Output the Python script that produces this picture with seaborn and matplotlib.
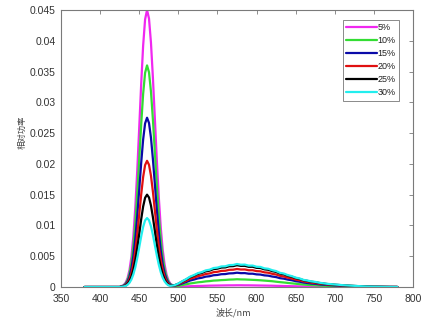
import matplotlib
matplotlib.use("Agg")
import matplotlib.pyplot as plt
from matplotlib.ticker import FuncFormatter, MultipleLocator
import pandas as pd
import seaborn as sns

# Wavelength grid (nm)
wavelength = [
    380, 400, 420, 425,
    430, 432.5, 435, 437.5, 440, 442.5, 445, 447.5, 450, 452.5, 455, 457.5,
    460, 462.5, 465, 467.5, 470, 472.5, 475, 477.5, 480, 482.5, 485, 487.5, 490,
    495, 500, 505, 510, 515, 520, 525, 530, 535, 540, 545, 550, 555, 560, 565,
    570, 575, 580, 585, 590, 595, 600, 605, 610, 615, 620, 625, 630, 635, 640,
    645, 650, 655, 660, 665, 670, 675, 680,
    690, 700, 710, 720, 730, 740, 750, 760, 770, 780,
]

# Relative spectral power for each concentration
power_5 = [
    0, 0, 0, 0,
    0.00031, 0.00068, 0.00141, 0.00272, 0.00491, 0.00824, 0.01292, 0.01895, 0.02588, 0.03294, 0.03920, 0.04347,
    0.04500, 0.04361, 0.03971, 0.03398, 0.02732, 0.02061, 0.01463, 0.00972, 0.00608, 0.00360, 0.00198, 0.00104, 0.00051,
    0.00011, 0.00004, 0.00007, 0.00010, 0.00013, 0.00015, 0.00017, 0.00018, 0.00020, 0.00022, 0.00023, 0.00024, 0.00025, 0.00026, 0.00027,
    0.00027, 0.00028, 0.00028, 0.00027, 0.00027, 0.00026, 0.00025, 0.00024, 0.00023, 0.00022, 0.00021, 0.00019, 0.00018, 0.00016, 0.00015,
    0.00013, 0.00012, 0.00010, 0.00009, 0.00008, 0.00007, 0.00006, 0.00005,
    0.00004, 0.00003, 0.00002, 0.00002, 0.00001, 0.00001, 0, 0, 0, 0,
]
power_10 = [
    0, 0, 0, 0,
    0.00024, 0.00055, 0.00113, 0.00218, 0.00392, 0.00659, 0.01033, 0.01516, 0.02070, 0.02635, 0.03136, 0.03478,
    0.03600, 0.03488, 0.03177, 0.02718, 0.02185, 0.01649, 0.01170, 0.00778, 0.00486, 0.00288, 0.00158, 0.00083, 0.00043,
    0.00016, 0.00019, 0.00031, 0.00044, 0.00057, 0.00066, 0.00076, 0.00082, 0.00091, 0.00096, 0.00104, 0.00107, 0.00112, 0.00115, 0.00120,
    0.00122, 0.00126, 0.00123, 0.00122, 0.00119, 0.00116, 0.00113, 0.00109, 0.00104, 0.00099, 0.00094, 0.00086, 0.00079, 0.00073, 0.00066,
    0.00059, 0.00053, 0.00046, 0.00040, 0.00035, 0.00031, 0.00028, 0.00024,
    0.00018, 0.00014, 0.00010, 0.00008, 0.00005, 0.00003, 0.00002, 0.00001, 0, 0,
]
power_15 = [
    0, 0, 0, 0,
    0.00019, 0.00042, 0.00086, 0.00166, 0.00300, 0.00503, 0.00789, 0.01158, 0.01581, 0.02013, 0.02395, 0.02657,
    0.02750, 0.02665, 0.02427, 0.02076, 0.01669, 0.01260, 0.00894, 0.00594, 0.00371, 0.00220, 0.00121, 0.00063, 0.00035,
    0.00022, 0.00035, 0.00058, 0.00080, 0.00105, 0.00121, 0.00140, 0.00150, 0.00168, 0.00175, 0.00191, 0.00196, 0.00208, 0.00210, 0.00221,
    0.00223, 0.00232, 0.00225, 0.00226, 0.00216, 0.00216, 0.00205, 0.00202, 0.00189, 0.00184, 0.00170, 0.00161, 0.00143, 0.00135, 0.00120,
    0.00110, 0.00095, 0.00086, 0.00072, 0.00065, 0.00057, 0.00052, 0.00043,
    0.00032, 0.00025, 0.00018, 0.00014, 0.00009, 0.00006, 0.00003, 0.00002, 0.00001, 0,
]
power_20 = [
    0, 0, 0, 0,
    0.00014, 0.00031, 0.00064, 0.00124, 0.00223, 0.00375, 0.00588, 0.00863, 0.01179, 0.01501, 0.01786, 0.01980,
    0.02050, 0.01986, 0.01809, 0.01548, 0.01244, 0.00939, 0.00666, 0.00443, 0.00277, 0.00164, 0.00090, 0.00047, 0.00029,
    0.00024, 0.00044, 0.00073, 0.00100, 0.00132, 0.00152, 0.00176, 0.00190, 0.00211, 0.00220, 0.00241, 0.00247, 0.00262, 0.00264, 0.00279,
    0.00281, 0.00293, 0.00284, 0.00285, 0.00272, 0.00273, 0.00258, 0.00255, 0.00238, 0.00232, 0.00214, 0.00203, 0.00181, 0.00170, 0.00151,
    0.00138, 0.00120, 0.00109, 0.00091, 0.00082, 0.00071, 0.00065, 0.00055,
    0.00041, 0.00032, 0.00023, 0.00017, 0.00012, 0.00007, 0.00004, 0.00002, 0.00001, 0.00001,
]
power_25 = [
    0, 0, 0, 0,
    0.00010, 0.00023, 0.00047, 0.00091, 0.00164, 0.00275, 0.00431, 0.00632, 0.00863, 0.01098, 0.01307, 0.01449,
    0.01500, 0.01454, 0.01324, 0.01133, 0.00911, 0.00687, 0.00488, 0.00324, 0.00203, 0.00120, 0.00066, 0.00035, 0.00024,
    0.00028, 0.00053, 0.00089, 0.00121, 0.00159, 0.00184, 0.00213, 0.00229, 0.00255, 0.00266, 0.00291, 0.00298, 0.00316, 0.00318, 0.00337,
    0.00339, 0.00354, 0.00343, 0.00344, 0.00328, 0.00329, 0.00311, 0.00308, 0.00287, 0.00280, 0.00258, 0.00245, 0.00218, 0.00206, 0.00182,
    0.00167, 0.00145, 0.00131, 0.00110, 0.00099, 0.00086, 0.00078, 0.00066,
    0.00049, 0.00038, 0.00028, 0.00021, 0.00014, 0.00009, 0.00005, 0.00003, 0.00001, 0.00001,
]
power_30 = [
    0, 0, 0, 0,
    0.00008, 0.00017, 0.00035, 0.00068, 0.00122, 0.00205, 0.00321, 0.00472, 0.00644, 0.00820, 0.00976, 0.01082,
    0.01120, 0.01085, 0.00988, 0.00846, 0.00680, 0.00513, 0.00364, 0.00242, 0.00151, 0.00090, 0.00049, 0.00026, 0.00019,
    0.00028, 0.00056, 0.00094, 0.00128, 0.00168, 0.00194, 0.00225, 0.00242, 0.00270, 0.00281, 0.00308, 0.00315, 0.00334, 0.00336, 0.00356,
    0.00358, 0.00374, 0.00362, 0.00364, 0.00347, 0.00348, 0.00329, 0.00326, 0.00303, 0.00296, 0.00273, 0.00259, 0.00230, 0.00218, 0.00193,
    0.00177, 0.00153, 0.00139, 0.00116, 0.00105, 0.00091, 0.00083, 0.00070,
    0.00052, 0.00041, 0.00030, 0.00022, 0.00015, 0.00009, 0.00006, 0.00003, 0.00001, 0.00001,
]

labels = ["5%", "10%", "15%", "20%", "25%", "30%"]
series = [power_5, power_10, power_15, power_20, power_25, power_30]
colors = ["#f028f0", "#33dd33", "#0a0aa8", "#e01010", "#000000", "#22eeee"]

x_ticks = [350, 400, 450, 500, 550, 600, 650, 700, 750, 800]

frames = []
for lab, vals in zip(labels, series):
    frames.append(pd.DataFrame({"wavelength": wavelength, "power": vals, "conc": lab}))
df = pd.concat(frames, ignore_index=True)

sns.set_theme(style="white")
plt.rcParams["font.family"] = ["Liberation Sans", "Noto Sans CJK SC", "DejaVu Sans"]

fig = plt.figure(figsize=(4.28, 3.24), dpi=100)
ax = fig.add_axes([61 / 428, 1 - 287 / 324, 352 / 428, 277 / 324])

sns.lineplot(
    data=df, x="wavelength", y="power", hue="conc", hue_order=labels,
    palette=dict(zip(labels, colors)), estimator=None, sort=False,
    linewidth=1.6, ax=ax,
)

ax.set_xlim(350, 800)
ax.set_ylim(0, 0.045)
ax.set_xticks(x_ticks)
ax.yaxis.set_major_locator(MultipleLocator(0.005))
ax.yaxis.set_major_formatter(FuncFormatter(lambda v, _: f"{v:g}" if abs(v) > 1e-12 else "0"))

for side in ax.spines.values():
    side.set_color("#7a7a7a")
    side.set_linewidth(0.8)
ax.tick_params(direction="in", length=3, width=0.6, color="#7a7a7a",
               top=True, right=True, labelsize=7.5, labelcolor="#333333", pad=4)
ax.tick_params(axis="x", pad=5)

cjk = ["Noto Sans CJK SC", "Liberation Sans"]
ax.set_xlabel("波长/nm", fontsize=6.5, color="#444444", family=cjk)
ax.set_ylabel("相对功率", fontsize=6, color="#444444", family=cjk)
ax.xaxis.set_label_coords((233 - 61) / 352, (287 - 308) / 277)
ax.yaxis.set_label_coords((27 - 61) / 352, (287 - 132) / 277)

leg = ax.legend(
    loc="upper right", bbox_to_anchor=(0.96, 0.964), borderaxespad=0,
    fontsize=6.5, handlelength=3.4, handletextpad=0.1, labelspacing=0.45,
    borderpad=0.35, frameon=True, fancybox=False, title=None,
)
leg.get_frame().set_edgecolor("#555555")
leg.get_frame().set_linewidth(0.6)
for line in leg.get_lines():
    line.set_linewidth(1.6)
for t in leg.get_texts():
    t.set_color("#222222")

fig.savefig("out.png", dpi=100)
